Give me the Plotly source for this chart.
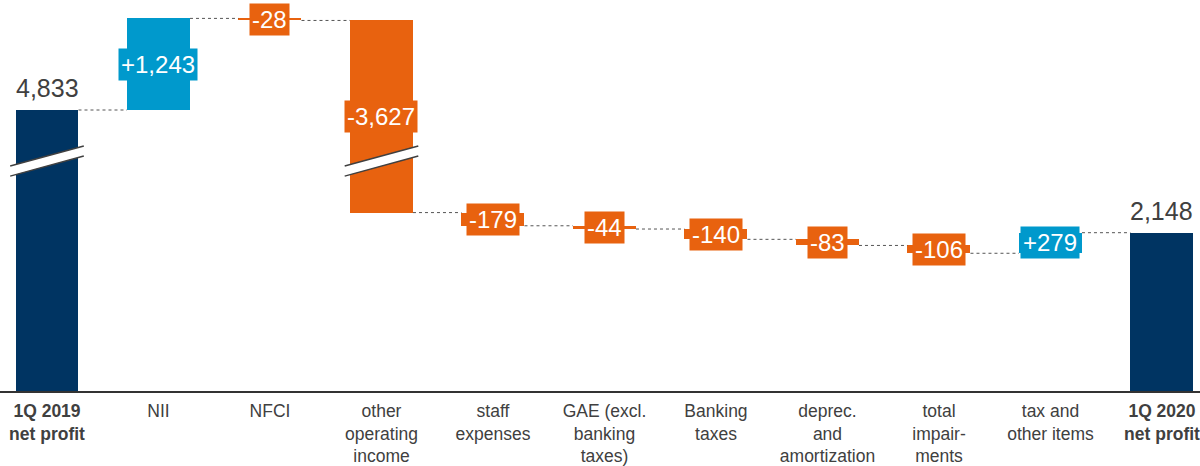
import plotly.graph_objects as go

# --- data -------------------------------------------------------------
categories = [
    "<b>1Q 2019<br>net profit</b>",
    "NII",
    "NFCI",
    "other<br>operating<br>income",
    "staff<br>expenses",
    "GAE (excl.<br>banking<br>taxes)",
    "Banking<br>taxes",
    "deprec.<br>and<br>amortization",
    "total<br>impair-<br>ments",
    "tax and<br>other items",
    "<b>1Q 2020<br>net profit</b>",
]
values = [4833, 1243, -28, -3627, -179, -44, -140, -83, -106, 279, 2148]
measures = ["absolute"] + ["relative"] * 9 + ["total"]

# --- styling ----------------------------------------------------------
NAVY = "#003462"
BLUE = "#0099CC"
ORANGE = "#E8620F"
GREY = "#404040"
BAR_W = 0.565
FONT = "Liberation Sans, Arial, sans-serif"

# broken value axis: the span (BREAK, BREAK + GAP) is cut out
BREAK = 3120
GAP = 1020


def squeeze(v):
    if v <= BREAK:
        return v
    if v >= BREAK + GAP:
        return v - GAP
    return BREAK


# running levels of the waterfall
bases, tops, colors = [], [], []
level = 0
for v, m in zip(values, measures):
    if m == "absolute":
        b, t = 0, v
        level = v
        c = NAVY
    elif m == "total":
        b, t = 0, level
        c = NAVY
    else:
        b, t = level, level + v
        level = level + v
        c = BLUE if v > 0 else ORANGE
    bases.append(b)
    tops.append(t)
    colors.append(c)

lo = [squeeze(min(b, t)) for b, t in zip(bases, tops)]
hi = [squeeze(max(b, t)) for b, t in zip(bases, tops)]
xs = list(range(len(categories)))

fig = go.Figure(
    go.Bar(
        x=xs,
        y=[h - l for h, l in zip(hi, lo)],
        base=lo,
        width=BAR_W,
        marker=dict(color=colors, line=dict(width=0)),
        hoverinfo="skip",
    )
)

shapes = []
annotations = []

# dotted connectors between consecutive bars
for i in range(len(values) - 1):
    y = squeeze(tops[i])
    shapes.append(dict(
        type="line", xref="x", yref="y",
        x0=i + BAR_W / 2, x1=i + 1 - BAR_W / 2, y0=y, y1=y,
        line=dict(color="#555555", width=1, dash="dot"),
    ))

# break symbols on bars that cross the cut
half_x = 0.33
band = 68
tilt = 136
for i in xs:
    if lo[i] < BREAK and hi[i] > BREAK:
        x0, x1 = i - half_x, i + half_x
        ul, ur = BREAK + band - tilt, BREAK + band + tilt
        ll, lr = BREAK - band - tilt, BREAK - band + tilt
        shapes.append(dict(
            type="path", xref="x", yref="y",
            path=f"M {x0},{ll} L {x1},{lr} L {x1},{ur} L {x0},{ul} Z",
            fillcolor="white", line=dict(width=0),
        ))
        for a, b in ((ul, ur), (ll, lr)):
            shapes.append(dict(
                type="line", xref="x", yref="y",
                x0=x0, x1=x1, y0=a, y1=b,
                line=dict(color=GREY, width=1.5),
            ))

# value labels
for i, (v, m) in enumerate(zip(values, measures)):
    if m == "relative":
        annotations.append(dict(
            x=i, y=(lo[i] + hi[i]) / 2, xref="x", yref="y",
            text=f"{v:+,}", showarrow=False,
            font=dict(family=FONT, size=24, color="white"),
            bgcolor=colors[i], borderpad=2,
            xanchor="center", yanchor="middle",
        ))
    else:
        annotations.append(dict(
            x=i, y=hi[i], xref="x", yref="y",
            text=f"{tops[i]:,}", showarrow=False,
            font=dict(family=FONT, size=25, color=GREY),
            xanchor="center", yanchor="bottom", yshift=6,
        ))

fig.update_layout(
    width=1200, height=466,
    margin=dict(l=0, r=0, t=10, b=75),
    paper_bgcolor="white", plot_bgcolor="white",
    showlegend=False,
    shapes=shapes,
    annotations=annotations,
    bargap=0,
    xaxis=dict(
        tickmode="array", tickvals=xs, ticktext=categories,
        range=[-0.4215, 10.341],
        showline=True, linecolor="#333333", linewidth=1.5,
        showgrid=False, zeroline=False, ticks="",
        ticklabelstandoff=3,
        ticklabeloverflow="allow",
        tickfont=dict(family=FONT, size=17.5, color=GREY),
    ),
    yaxis=dict(range=[0, 5170], visible=False, showgrid=False, zeroline=False, fixedrange=True),
)
fig.update_traces(cliponaxis=False)

fig.write_html("out.html")
